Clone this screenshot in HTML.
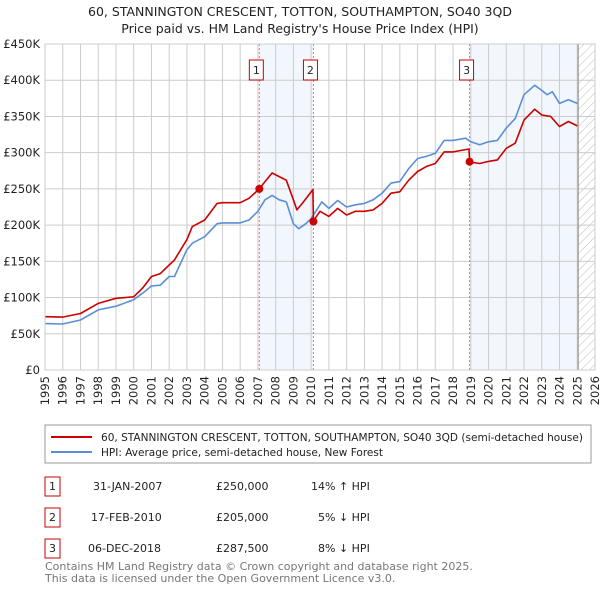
<!DOCTYPE html>
<html><head><meta charset="utf-8"><style>
body{margin:0;background:#fff;font-family:"Liberation Sans","DejaVu Sans",sans-serif;}
svg text{font-family:"DejaVu Sans","Liberation Sans",sans-serif;}
</style></head><body>
<svg width="600" height="590" viewBox="0 0 600 590" xmlns="http://www.w3.org/2000/svg">
<defs><pattern id="hatch" width="6" height="6" patternUnits="userSpaceOnUse" patternTransform="rotate(45)"><line x1="0" y1="0" x2="0" y2="6" stroke="#bbb" stroke-width="1"/></pattern></defs>
<text x="300" y="16" text-anchor="middle" font-size="12.5" fill="#222">60, STANNINGTON CRESCENT, TOTTON, SOUTHAMPTON, SO40 3QD</text>
<text x="300" y="33" text-anchor="middle" font-size="12.5" fill="#222">Price paid vs. HM Land Registry's House Price Index (HPI)</text>
<g id="plot"></g>
<rect x="45" y="425" width="546" height="38" fill="#fff" stroke="#999"/>
<line x1="51" y1="437" x2="92" y2="437" stroke="#cc0000" stroke-width="2"/>
<text x="101" y="441" font-size="11" fill="#222" textLength="482" lengthAdjust="spacingAndGlyphs">60, STANNINGTON CRESCENT, TOTTON, SOUTHAMPTON, SO40 3QD (semi-detached house)</text>
<line x1="51" y1="452" x2="92" y2="452" stroke="#5b8fd4" stroke-width="2"/>
<text x="101" y="456" font-size="11" fill="#222" textLength="282" lengthAdjust="spacingAndGlyphs">HPI: Average price, semi-detached house, New Forest</text>
<g font-size="11" fill="#222">
<g><rect x="45" y="477" width="15" height="19" fill="#fff" stroke="#cc0000"/><text x="52.5" y="490" text-anchor="middle">1</text><text x="93" y="490">31-JAN-2007</text><text x="216" y="490">£250,000</text><text x="311" y="490">14% ↑ HPI</text></g>
<g><rect x="45" y="508" width="15" height="19" fill="#fff" stroke="#cc0000"/><text x="52.5" y="521" text-anchor="middle">2</text><text x="91" y="521">17-FEB-2010</text><text x="216" y="521">£205,000</text><text x="318" y="521">5% ↓ HPI</text></g>
<g><rect x="45" y="539" width="15" height="19" fill="#fff" stroke="#cc0000"/><text x="52.5" y="552" text-anchor="middle">3</text><text x="88" y="552">06-DEC-2018</text><text x="216" y="552">£287,500</text><text x="318" y="552">8% ↓ HPI</text></g>
</g>
<text x="45" y="570" font-size="11" fill="#777">Contains HM Land Registry data © Crown copyright and database right 2025.</text>
<text x="45" y="582" font-size="11" fill="#777">This data is licensed under the Open Government Licence v3.0.</text>
</svg>
<script>
const yTicks=[0,50,100,150,200,250,300,350,400,450];
const yTickLabels=["£0","£50K","£100K","£150K","£200K","£250K","£300K","£350K","£400K","£450K"];
const xYears=[1995,1996,1997,1998,1999,2000,2001,2002,2003,2004,2005,2006,2007,2008,2009,2010,2011,2012,2013,2014,2015,2016,2017,2018,2019,2020,2021,2022,2023,2024,2025,2026];
const saleDates=[2007.08,2010.13,2018.93];
const saleValues=[250,205,287.5];
const saleLabels=["1","2","3"];
const priceX=[1995,1996,1997,1998,1999,2000,2000.5,2001,2001.5,2002,2002.3,2003,2003.3,2004,2004.7,2005,2006,2006.5,2007.08,2007.4,2007.8,2008.2,2008.6,2009,2009.2,2009.5,2010.1,2010.13,2010.5,2011,2011.5,2012,2012.5,2013,2013.5,2014,2014.5,2015,2015.5,2016,2016.5,2017,2017.5,2018,2018.9,2018.93,2019.5,2020,2020.5,2021,2021.5,2022,2022.6,2023,2023.5,2024,2024.5,2025];
const priceY=[73.6,73,78,92,99,101,113,129,133,145,152,180,198,207,230,231,231,237,250,260,272,267,262,235,221,230,249,206,219,212,223,214,219,219,221,230,244,246,262,274,281,285,301,301,305,287,285,288,290,306,313,345,360,352,350,336,343,337];
const hpiX=[1995,1996,1997,1998,1999,2000,2000.5,2001,2001.5,2002,2002.3,2003,2003.3,2004,2004.7,2005,2006,2006.5,2007,2007.4,2007.8,2008.2,2008.6,2009,2009.3,2009.7,2010,2010.6,2011,2011.5,2012,2012.5,2013,2013.5,2014,2014.5,2015,2015.5,2016,2016.5,2017,2017.5,2018,2018.7,2019,2019.5,2020,2020.5,2021,2021.5,2022,2022.6,2023,2023.3,2023.6,2024,2024.5,2025];
const hpiY=[64,63.5,69,83,88,97,106,116,117,129,129,166,175,184,202,203,203,207,219,235,241,235,232,202,195,202,209,232,223,234,225,228,230,235,244,258,260,278,292,295,299,317,317,320,315,311,315,317,334,347,380,393,386,380,384,368,373,368];
const X0=45,X1=595,Y0=370,Y1=44;
const sx=v=>X0+(v-1995)/(2026-1995)*(X1-X0);
const sy=v=>Y0-v/450*(Y0-Y1);
const NS="http://www.w3.org/2000/svg";
const g=document.getElementById('plot');
function mk(t,a,p){const e=document.createElementNS(NS,t);for(const k in a)e.setAttribute(k,a[k]);(p||g).appendChild(e);return e;}
let s1=mk('rect',{x:sx(saleDates[0]),y:Y1,width:sx(saleDates[1])-sx(saleDates[0]),height:Y0-Y1,fill:'#f2f6fd'});


let s2=mk('rect',{x:sx(saleDates[2]),y:Y1,width:sx(2025.05)-sx(saleDates[2]),height:Y0-Y1,fill:'#f2f6fd'});


let hz=mk('rect',{x:sx(2025.05),y:Y1,width:X1-sx(2025.05),height:Y0-Y1,fill:'url(#hatch)'});


yTicks.forEach((v,i)=>{
 let l=mk('line',{x1:X0,x2:X1,y1:sy(v),y2:sy(v),stroke:'#ccc','stroke-width':1});
 
 
 let t=mk('text',{x:X0-5,y:sy(v)+4,'text-anchor':'end','font-size':11.5,fill:'#222'});
 t.textContent=yTickLabels[i];
 
 
});
xYears.forEach(v=>{
 let l=mk('line',{x1:sx(v),x2:sx(v),y1:Y1,y2:Y0,stroke:'#ccc','stroke-width':1});
 
 
 let t=mk('text',{x:0,y:0,'text-anchor':'end','font-size':11.5,fill:'#222',transform:`translate(${sx(v)+4},${Y0+6}) rotate(-90)`});
 t.textContent=v;
 
 
});
let vl=mk('line',{x1:sx(2025.05),x2:sx(2025.05),y1:Y1,y2:Y0,stroke:'#888','stroke-width':1});


saleDates.forEach((d,i)=>{
 let l=mk('line',{x1:sx(d),x2:sx(d),y1:Y1,y2:Y0,stroke:'#f07070','stroke-width':1,'stroke-dasharray':'2,2'});
 
 
 let r=mk('rect',{x:sx(d)-10,y:60,width:14,height:20,fill:'#fff',stroke:'#cc0000'});
 
 
 let t=mk('text',{x:sx(d)-3,y:74,'text-anchor':'middle','font-size':11,fill:'#222'});
 t.textContent=saleLabels[i];
 
 
});
function line(xs,ys,col,name){
 let p=mk('path',{d:xs.map((x,i)=>(i?'L':'M')+sx(x).toFixed(1)+','+sy(ys[i]).toFixed(1)).join(''),fill:'none',stroke:col,'stroke-width':1.6,'stroke-linejoin':'round'});
 
 
}
line(hpiX,hpiY,'#5b8fd4','hpi-line');
line(priceX,priceY,'#cc0000','price-line');
saleDates.forEach((d,i)=>{
 let c=mk('circle',{cx:sx(d),cy:sy(saleValues[i]),r:4,fill:'#cc0000'});
 
 
});
let fr=mk('rect',{x:X0,y:Y1,width:X1-X0,height:Y0-Y1,fill:'none',stroke:'#ccc'});


</script>
</body></html>
